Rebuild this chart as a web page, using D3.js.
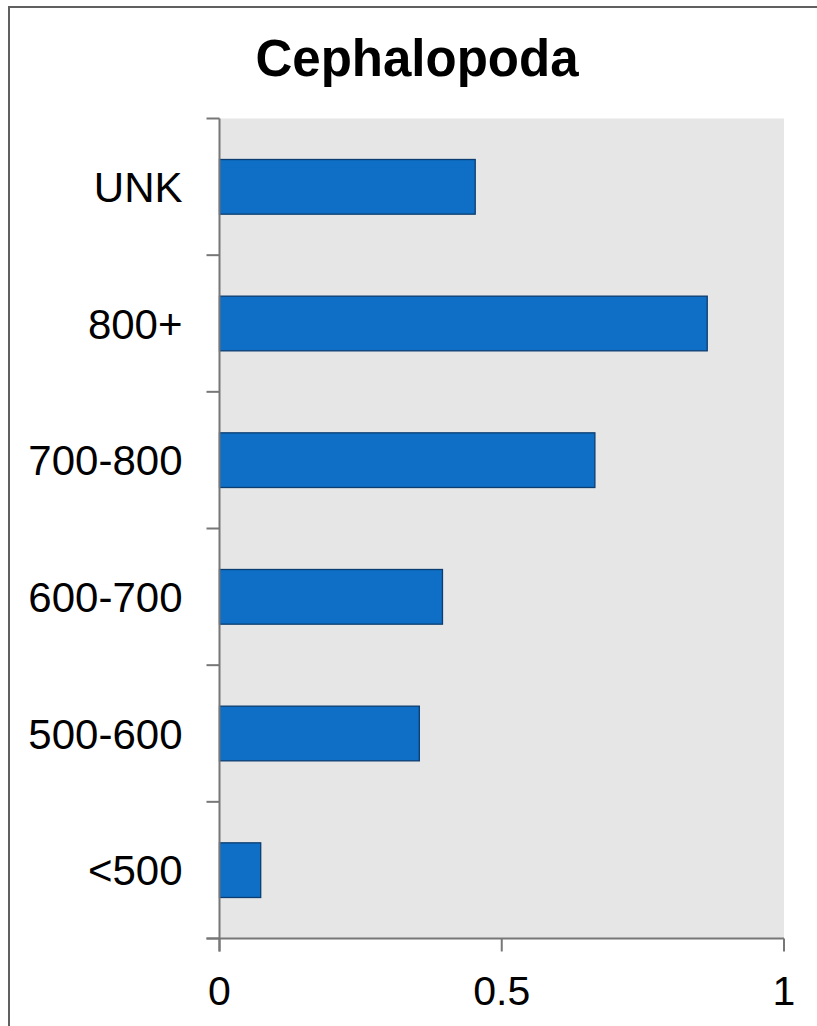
<!DOCTYPE html>
<html>
<head>
<meta charset="utf-8">
<script src="https://cdn.jsdelivr.net/npm/d3@7"></script>
<style>
  html, body { margin: 0; padding: 0; background: #fff; }
  svg { display: block; font-family: "Liberation Sans", Arial, sans-serif; }
</style>
</head>
<body>
<svg id="chart" width="817" height="1026"></svg>
<script>
// Size classes (top to bottom) and their values
const categories = ["UNK", "800+", "700-800", "600-700", "500-600", "<500"];
const values = [0.453, 0.864, 0.665, 0.395, 0.354, 0.073];
const xTicks = [0, 0.5, 1];
const xTickLabels = ["0", "0.5", "1"];
const title = "Cephalopoda";

const svg = d3.select("#chart");
const plot = { left: 219.5, right: 784, top: 118.5, bottom: 938.5 };

// outer frame (runs past the right and bottom edges)
svg.append("rect")
  .attr("x", 9).attr("y", 7)
  .attr("width", 1000).attr("height", 1200)
  .attr("fill", "#fff")
  .attr("stroke", "#606060").attr("stroke-width", 2);

const x = d3.scaleLinear().domain([0, 1]).range([plot.left, plot.right]);
const y = d3.scaleBand().domain(categories)
  .range([plot.top, plot.bottom])
  .paddingInner(0.6).paddingOuter(0.3);

// plot background
svg.append("rect")
  .attr("x", plot.left).attr("y", plot.top)
  .attr("width", plot.right - plot.left).attr("height", plot.bottom - plot.top)
  .attr("fill", "#e6e6e6");

// bars
svg.append("g").selectAll("rect")
  .data(categories.map((c, i) => ({ c, v: values[i] })))
  .join("rect")
  .attr("x", x(0))
  .attr("y", d => y(d.c))
  .attr("width", d => x(d.v) - x(0))
  .attr("height", y.bandwidth())
  .attr("fill", "#0f6fc6")
  .attr("stroke", "#0b3d70")
  .attr("stroke-width", 1.3);

const axisColor = "#777777";

// y axis: line and tick marks at band boundaries
const yAxis = svg.append("g");
yAxis.append("line")
  .attr("x1", plot.left).attr("x2", plot.left)
  .attr("y1", plot.top).attr("y2", plot.bottom + 13)
  .attr("stroke", axisColor).attr("stroke-width", 2);
const step = y.step();
const bounds = d3.range(categories.length + 1).map(i => plot.top + i * step);
yAxis.selectAll("line.tick")
  .data(bounds)
  .join("line")
  .attr("class", "tick")
  .attr("x1", plot.left - 13).attr("x2", plot.left)
  .attr("y1", d => d).attr("y2", d => d)
  .attr("stroke", axisColor).attr("stroke-width", 2);
yAxis.selectAll("text")
  .data(categories)
  .join("text")
  .attr("x", 182.5)
  .attr("y", d => y(d) + y.bandwidth() / 2)
  .attr("dy", "0.36em")
  .attr("text-anchor", "end")
  .attr("font-size", 42)
  .attr("fill", "#000")
  .text(d => d);

// x axis
const xAxis = svg.append("g");
xAxis.append("line")
  .attr("x1", plot.left - 13).attr("x2", plot.right)
  .attr("y1", plot.bottom).attr("y2", plot.bottom)
  .attr("stroke", axisColor).attr("stroke-width", 2);
xAxis.selectAll("line.tick")
  .data(xTicks)
  .join("line")
  .attr("class", "tick")
  .attr("x1", d => x(d)).attr("x2", d => x(d))
  .attr("y1", plot.bottom).attr("y2", plot.bottom + 13)
  .attr("stroke", axisColor).attr("stroke-width", 2);
xAxis.selectAll("text")
  .data(xTicks)
  .join("text")
  .attr("x", d => x(d))
  .attr("y", 1005)
  .attr("text-anchor", "middle")
  .attr("font-size", 41)
  .attr("fill", "#000")
  .text((d, i) => xTickLabels[i]);

// title
svg.append("text")
  .attr("x", 417).attr("y", 76)
  .attr("text-anchor", "middle")
  .attr("font-size", 51)
  .attr("font-weight", "bold")
  .attr("fill", "#000")
  .text(title);
</script>
</body>
</html>
